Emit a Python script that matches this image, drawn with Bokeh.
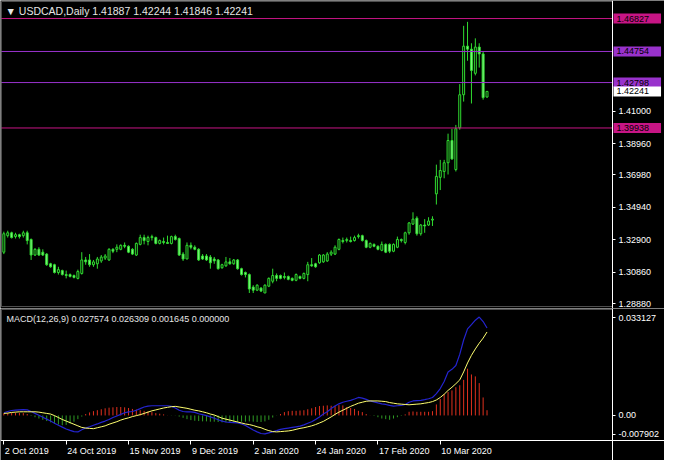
from bokeh.plotting import figure
from bokeh.models import (Range1d, FixedTicker, Label, PrintfTickFormatter,
                          ColumnDataSource, BoxAnnotation, LinearAxis)
from bokeh.layouts import column
from bokeh.embed import file_html
from bokeh.resources import INLINE

symbol = "USDCAD,Daily"

opens = [1.3212, 1.3316, 1.3334, 1.3310, 1.3322, 1.3316, 1.3334, 1.3292, 1.3194, 1.3230,
         1.3212, 1.3200, 1.3139, 1.3133, 1.3084, 1.3096, 1.3071, 1.3071, 1.3065, 1.3047,
         1.3078, 1.3163, 1.3163, 1.3133, 1.3139, 1.3157, 1.3175, 1.3163, 1.3230, 1.3230,
         1.3230, 1.3255, 1.3249, 1.3230, 1.3194, 1.3261, 1.3304, 1.3279, 1.3304, 1.3304,
         1.3267, 1.3279, 1.3273, 1.3267, 1.3310, 1.3298, 1.3200, 1.3169, 1.3255, 1.3243,
         1.3230, 1.3188, 1.3188, 1.3181, 1.3169, 1.3163, 1.3114, 1.3126, 1.3151, 1.3139,
         1.3163, 1.3108, 1.3084, 1.3071, 1.2992, 1.2973, 1.2986, 1.2955, 1.2998, 1.3029,
         1.3065, 1.3065, 1.3059, 1.3059, 1.3047, 1.3035, 1.3059, 1.3047, 1.3071, 1.3133,
         1.3139, 1.3145, 1.3151, 1.3157, 1.3200, 1.3200, 1.3230, 1.3285, 1.3285, 1.3285,
         1.3285, 1.3310, 1.3316, 1.3285, 1.3243, 1.3261, 1.3249, 1.3224, 1.3261, 1.3261,
         1.3218, 1.3243, 1.3292, 1.3273, 1.3334, 1.3389, 1.3426, 1.3328, 1.3383, 1.3383,
         1.3414, 1.3579, 1.3683, 1.3720, 1.3775, 1.3915, 1.3732, 1.3995, 1.4203, 1.4509,
         1.4490, 1.4338, 1.4503, 1.4460, 1.41887]
highs = [1.3341, 1.3347, 1.3341, 1.3334, 1.3328, 1.3347, 1.3347, 1.3298, 1.3237, 1.3243,
         1.3230, 1.3206, 1.3145, 1.3139, 1.3120, 1.3102, 1.3096, 1.3078, 1.3071, 1.3102,
         1.3212, 1.3182, 1.3200, 1.3163, 1.3182, 1.3194, 1.3200, 1.3237, 1.3237, 1.3261,
         1.3261, 1.3273, 1.3255, 1.3237, 1.3273, 1.3322, 1.3322, 1.3316, 1.3322, 1.3310,
         1.3292, 1.3304, 1.3316, 1.3316, 1.3322, 1.3304, 1.3212, 1.3273, 1.3273, 1.3255,
         1.3237, 1.3200, 1.3200, 1.3194, 1.3182, 1.3169, 1.3139, 1.3182, 1.3175, 1.3169,
         1.3169, 1.3114, 1.3090, 1.3078, 1.3004, 1.3010, 1.2992, 1.3010, 1.3053, 1.3108,
         1.3078, 1.3071, 1.3084, 1.3065, 1.3053, 1.3078, 1.3065, 1.3084, 1.3151, 1.3175,
         1.3145, 1.3200, 1.3200, 1.3212, 1.3224, 1.3255, 1.3298, 1.3304, 1.3304, 1.3310,
         1.3316, 1.3328, 1.3322, 1.3292, 1.3273, 1.3267, 1.3255, 1.3279, 1.3267, 1.3267,
         1.3267, 1.3310, 1.3298, 1.3341, 1.3402, 1.3463, 1.3438, 1.3389, 1.3420, 1.3432,
         1.3438, 1.3763, 1.3793, 1.3793, 1.3958, 1.3989, 1.4013, 1.4270, 1.4637, 1.4662,
         1.4527, 1.4558, 1.4527, 1.4478, 1.42244]
lows = [1.3200, 1.3304, 1.3298, 1.3298, 1.3298, 1.3304, 1.3261, 1.3163, 1.3188, 1.3188,
        1.3188, 1.3126, 1.3114, 1.3078, 1.3071, 1.3065, 1.3047, 1.3053, 1.3047, 1.3041,
        1.3071, 1.3133, 1.3120, 1.3120, 1.3108, 1.3145, 1.3163, 1.3157, 1.3206, 1.3212,
        1.3224, 1.3237, 1.3206, 1.3194, 1.3188, 1.3255, 1.3261, 1.3255, 1.3285, 1.3261,
        1.3261, 1.3261, 1.3267, 1.3261, 1.3285, 1.3188, 1.3157, 1.3169, 1.3230, 1.3224,
        1.3157, 1.3163, 1.3157, 1.3108, 1.3139, 1.3102, 1.3108, 1.3120, 1.3133, 1.3133,
        1.3102, 1.3065, 1.3053, 1.2955, 1.2955, 1.2967, 1.2961, 1.2955, 1.2992, 1.3016,
        1.3029, 1.3041, 1.3041, 1.3035, 1.3029, 1.3029, 1.3041, 1.3041, 1.3029, 1.3120,
        1.3114, 1.3139, 1.3145, 1.3151, 1.3188, 1.3194, 1.3224, 1.3267, 1.3273, 1.3273,
        1.3279, 1.3298, 1.3279, 1.3237, 1.3237, 1.3243, 1.3224, 1.3218, 1.3206, 1.3206,
        1.3212, 1.3237, 1.3273, 1.3261, 1.3322, 1.3383, 1.3316, 1.3316, 1.3334, 1.3377,
        1.3377, 1.3512, 1.3603, 1.3677, 1.3701, 1.3793, 1.3720, 1.3983, 1.4160, 1.4417,
        1.4148, 1.4325, 1.4374, 1.4172, 1.41846]
closes = [1.3328, 1.3334, 1.3304, 1.3322, 1.3310, 1.3334, 1.3285, 1.3194, 1.3230, 1.3194,
          1.3194, 1.3133, 1.3120, 1.3084, 1.3102, 1.3071, 1.3065, 1.3059, 1.3053, 1.3090,
          1.3163, 1.3151, 1.3133, 1.3151, 1.3169, 1.3181, 1.3188, 1.3230, 1.3218, 1.3243,
          1.3255, 1.3249, 1.3212, 1.3200, 1.3267, 1.3304, 1.3285, 1.3304, 1.3310, 1.3267,
          1.3285, 1.3273, 1.3267, 1.3310, 1.3292, 1.3194, 1.3169, 1.3255, 1.3243, 1.3230,
          1.3163, 1.3169, 1.3163, 1.3145, 1.3157, 1.3108, 1.3133, 1.3151, 1.3139, 1.3163,
          1.3108, 1.3071, 1.3071, 1.2980, 1.2973, 1.3004, 1.2967, 1.3004, 1.3047, 1.3065,
          1.3047, 1.3047, 1.3053, 1.3041, 1.3035, 1.3071, 1.3047, 1.3078, 1.3133, 1.3126,
          1.3120, 1.3194, 1.3194, 1.3200, 1.3212, 1.3243, 1.3292, 1.3279, 1.3292, 1.3279,
          1.3304, 1.3316, 1.3285, 1.3243, 1.3267, 1.3249, 1.3230, 1.3261, 1.3212, 1.3218,
          1.3261, 1.3292, 1.3285, 1.3334, 1.3396, 1.3420, 1.3328, 1.3383, 1.3377, 1.3408,
          1.3420, 1.3689, 1.3726, 1.3775, 1.3915, 1.3799, 1.3989, 1.4203, 1.4509, 1.4490,
          1.4356, 1.4503, 1.4460, 1.4185, 1.42241]

macd_main = [0.00084, 0.00125, 0.00155, 0.00165, 0.00175, 0.00185, 0.00175, 0.00125, 0.00064, 0.00004,
             -0.00056, -0.00117, -0.00177, -0.00247, -0.00308, -0.00368, -0.00428, -0.00469, -0.00509, -0.00519,
             -0.00449, -0.00398, -0.00358, -0.00308, -0.00268, -0.00217, -0.00177, -0.00127, -0.00066, -0.00016,
             0.00034, 0.00084, 0.00115, 0.00125, 0.00165, 0.00215, 0.00266, 0.00296, 0.00306, 0.00306,
             0.00306, 0.00306, 0.00306, 0.00286, 0.00235, 0.00165, 0.00125, 0.00115, 0.00115, 0.00095,
             0.00054, 0.00024, -0.00006, -0.00046, -0.00087, -0.00137, -0.00177, -0.00207, -0.00217, -0.00227,
             -0.00237, -0.00268, -0.00318, -0.00388, -0.00459, -0.00519, -0.00569, -0.00579, -0.00549, -0.00519,
             -0.00479, -0.00438, -0.00418, -0.00398, -0.00378, -0.00358, -0.00338, -0.00298, -0.00247, -0.00197,
             -0.00127, -0.00046, 0.00044, 0.00115, 0.00215, 0.00296, 0.00366, 0.00417, 0.00447, 0.00477,
             0.00517, 0.00567, 0.00547, 0.00507, 0.00457, 0.00427, 0.00396, 0.00366, 0.00346, 0.00316,
             0.00296, 0.00306, 0.00316, 0.00346, 0.00417, 0.00457, 0.00467, 0.00477, 0.00497, 0.00527,
             0.00567, 0.00688, 0.00849, 0.01070, 0.01372, 0.01453, 0.01573, 0.01925, 0.02378, 0.02730,
             0.02861, 0.03002, 0.03102, 0.02961, 0.027574]
macd_signal = [0.00064, 0.00074, 0.00095, 0.00105, 0.00115, 0.00115, 0.00115, 0.00115, 0.00115, 0.00105,
               0.00084, 0.00064, 0.00044, -0.00006, -0.00066, -0.00127, -0.00177, -0.00227, -0.00278, -0.00328,
               -0.00378, -0.00398, -0.00408, -0.00418, -0.00388, -0.00358, -0.00328, -0.00278, -0.00237, -0.00197,
               -0.00147, -0.00107, -0.00076, -0.00036, -0.00006, 0.00024, 0.00064, 0.00105, 0.00145, 0.00175,
               0.00205, 0.00235, 0.00256, 0.00276, 0.00286, 0.00266, 0.00245, 0.00225, 0.00195, 0.00165,
               0.00145, 0.00115, 0.00084, 0.00044, 0.00014, -0.00036, -0.00087, -0.00117, -0.00147, -0.00177,
               -0.00207, -0.00237, -0.00268, -0.00288, -0.00318, -0.00358, -0.00388, -0.00438, -0.00479, -0.00509,
               -0.00519, -0.00509, -0.00499, -0.00489, -0.00469, -0.00438, -0.00408, -0.00388, -0.00358, -0.00328,
               -0.00288, -0.00237, -0.00187, -0.00117, -0.00046, 0.00034, 0.00105, 0.00165, 0.00225, 0.00286,
               0.00336, 0.00386, 0.00417, 0.00447, 0.00457, 0.00457, 0.00457, 0.00447, 0.00437, 0.00406,
               0.00386, 0.00366, 0.00356, 0.00346, 0.00336, 0.00346, 0.00356, 0.00366, 0.00386, 0.00406,
               0.00437, 0.00487, 0.00567, 0.00668, 0.00789, 0.00889, 0.01000, 0.01121, 0.01372, 0.01654,
               0.01895, 0.02096, 0.02277, 0.02438, 0.026309]
macd_hist = [0.00064, 0.00074, 0.00084, 0.00084, 0.00084, 0.00074, 0.00044, -0.00016, -0.00056, -0.00097,
             -0.00137, -0.00177, -0.00217, -0.00258, -0.00288, -0.00308, -0.00298, -0.00258, -0.00197, -0.00117,
             -0.00036, 0.00044, 0.00095, 0.00135, 0.00165, 0.00195, 0.00225, 0.00245, 0.00256, 0.00266,
             0.00266, 0.00256, 0.00235, 0.00205, 0.00185, 0.00165, 0.00145, 0.00125, 0.00105, 0.00074,
             0.00054, 0.00034, 0.00004, -0.00006, -0.00006, -0.00036, -0.00076, -0.00117, -0.00147, -0.00167,
             -0.00177, -0.00187, -0.00187, -0.00197, -0.00197, -0.00207, -0.00217, -0.00217, -0.00207, -0.00207,
             -0.00207, -0.00197, -0.00197, -0.00187, -0.00197, -0.00207, -0.00207, -0.00187, -0.00137, -0.00066,
             -0.00006, 0.00044, 0.00105, 0.00135, 0.00145, 0.00145, 0.00155, 0.00165, 0.00195, 0.00225,
             0.00266, 0.00296, 0.00306, 0.00316, 0.00306, 0.00306, 0.00326, 0.00316, 0.00266, 0.00235,
             0.00205, 0.00145, 0.00105, 0.00044, 0.00004, -0.00016, -0.00056, -0.00097, -0.00117, -0.00137,
             -0.00097, -0.00056, -0.00016, 0.00034, 0.00115, 0.00125, 0.00115, 0.00115, 0.00115, 0.00115,
             0.00135, 0.00346, 0.00517, 0.00668, 0.00738, 0.00789, 0.00889, 0.00950, 0.01121, 0.01473,
             0.01292, 0.01231, 0.01020, 0.00567, 0.001645]

date_ticks = [0, 16, 32, 48, 64, 80, 96, 112]
date_labels = ["2 Oct 2019", "24 Oct 2019", "15 Nov 2019", "9 Dec 2019",
               "2 Jan 2020", "24 Jan 2020", "17 Feb 2020", "10 Mar 2020"]
# visible price-scale labels (the ones above 1.41 sit under the level tags)
price_ticks = [1.28880, 1.30860, 1.32900, 1.34940, 1.36980, 1.38960, 1.41000]
level_prices = [1.46827, 1.44754, 1.42798, 1.39938]
macd_ticks = [-0.007902, 0.0, 0.033127]

# ---------------- styles / layout ----------------
FONT = "Liberation Sans"
FS = "9px"
GREEN = "#30dc30"
BEAR_FILL = "#86f286"
level_colors = ["#c71585", "#9932cc", "#9932cc", "#c71585"]
BLUE = "#2424d0"
YELLOW = "#ffff70"
RED_H = "#e0301e"
GREEN_H = "#2f9a24"

W = 664
BOX_L = -0.6          # left edge of the chart box (bars)
AX_X = 156.2          # price-axis position (bars)
PPB = (612 - 1) / (AX_X - BOX_L)    # pixels per bar
x_range = Range1d(BOX_L - 1 / PPB, AX_X + (W - 612) / PPB)

# main panel: box from px 1 to 306 of a 308 px frame
P_LO, P_HI = 1.2870, 1.4790
PPU = 305 / (P_HI - P_LO)
H1 = 308
p_range = Range1d(P_LO - 2 / PPU, P_HI + 1 / PPU)

# MACD panel: box from px 1 to 132 of a 152 px frame (dates below)
M_LO, M_HI = -0.0079, 0.0334
H2 = 152
MPU = 131 / (M_HI - M_LO)
m_range = Range1d(M_LO - 20 / MPU, M_HI + 1 / MPU)

n = len(closes)
idx = list(range(n))


def style_axis(ax):
    ax.axis_line_color = "white"
    ax.major_tick_line_color = "white"
    ax.minor_tick_line_color = None
    ax.major_tick_in = 0
    ax.major_tick_out = 3
    ax.major_label_text_color = "white"
    ax.major_label_text_font = FONT
    ax.major_label_text_font_size = FS
    ax.major_label_standoff = 3


def base_figure(h, yr):
    f = figure(width=W, height=h, x_range=x_range, y_range=yr, output_backend="svg",
               toolbar_location=None, x_axis_location=None, y_axis_location="right",
               background_fill_color="black", border_fill_color="black",
               min_border_left=0, min_border_right=0, min_border_top=0, min_border_bottom=0)
    f.outline_line_color = None
    f.grid.visible = False
    return f


# ---------------- main price chart ----------------
p = base_figure(H1, p_range)
ya = p.yaxis[0]
ya.fixed_location = AX_X
ya.ticker = FixedTicker(ticks=price_ticks)
ya.formatter = PrintfTickFormatter(format="%.5f")
style_axis(ya)

p.add_layout(BoxAnnotation(left=BOX_L, right=AX_X, bottom=P_LO, top=P_HI, fill_alpha=0,
                           line_color="white", line_width=1))

bull = [i for i in idx if closes[i] >= opens[i]]
bear = [i for i in idx if closes[i] < opens[i]]
p.segment(x0=idx, y0=lows, x1=idx, y1=highs, line_color=GREEN, line_width=1)
src_bull = ColumnDataSource(dict(x=bull, top=[closes[i] for i in bull], bottom=[opens[i] for i in bull]))
src_bear = ColumnDataSource(dict(x=bear, top=[opens[i] for i in bear], bottom=[closes[i] for i in bear]))
p.vbar(x="x", top="top", bottom="bottom", width=0.5, source=src_bull,
       fill_color="black", line_color=GREEN, line_width=1)
p.vbar(x="x", top="top", bottom="bottom", width=0.5, source=src_bear,
       fill_color=BEAR_FILL, line_color=GREEN, line_width=1)

p.segment(x0=[BOX_L] * len(level_prices), x1=[AX_X] * len(level_prices),
          y0=level_prices, y1=level_prices, line_color=level_colors, line_width=1)

tags = list(zip(level_prices, level_colors)) + [(closes[-1], "white")]
for price, col in tags:
    p.add_layout(Label(x=AX_X, y=price, x_offset=1, text=f"{price:.5f}", text_align="left",
                       text_baseline="middle", background_fill_color=col,
                       background_fill_alpha=1.0, text_color="black", level="overlay",
                       text_font=FONT, text_font_size=FS,
                       padding=dict(left=3, right=12, top=2, bottom=2)))

header = f"\u25bc {symbol}  {opens[-1]:.5f} {highs[-1]:.5f} {lows[-1]:.5f} {closes[-1]:.5f}"
p.add_layout(Label(x=BOX_L, y=P_HI, x_offset=4, y_offset=-3, text=header, text_align="left",
                   text_baseline="top", text_color="#e6e6e6", text_font=FONT,
                   text_font_size="10.5px"))

# ---------------- MACD panel ----------------
q = base_figure(H2, m_range)
qa = q.yaxis[0]
qa.fixed_location = AX_X
# MetaTrader prints the panel's max / min labels just inside the window edges
macd_tick_pos = [macd_ticks[0] + 6.5 / MPU, macd_ticks[1], macd_ticks[2] - 7.5 / MPU]
qa.ticker = FixedTicker(ticks=macd_tick_pos)
qa.major_label_overrides = {pos: ("0.00" if val == 0 else f"{val:.6f}")
                            for pos, val in zip(macd_tick_pos, macd_ticks)}
style_axis(qa)

xa = LinearAxis(fixed_location=M_LO)
q.add_layout(xa, "below")
xa.ticker = FixedTicker(ticks=date_ticks)
xa.major_label_overrides = {t: "" for t in date_ticks}
style_axis(xa)
xa.major_tick_out = 4

q.add_layout(BoxAnnotation(left=BOX_L, right=AX_X, bottom=M_LO, top=M_HI, fill_alpha=0,
                           line_color="white", line_width=1))

hcol = [RED_H if v >= 0 else GREEN_H for v in macd_hist]
q.segment(x0=idx, y0=[0] * n, x1=idx, y1=macd_hist, line_color=hcol, line_width=1)
q.line(idx, macd_main, line_color=BLUE, line_width=1.2)
q.line(idx, macd_signal, line_color=YELLOW, line_width=1)

for t, s in zip(date_ticks, date_labels):
    q.add_layout(Label(x=t, y=M_LO, x_offset=1, y_offset=-5, text=s, text_align="left",
                       text_baseline="top", text_color="white", text_font=FONT,
                       text_font_size=FS))

mh = f"MACD(12,26,9) {macd_main[-1]:.6f} {macd_signal[-1]:.6f} {macd_hist[-1]:.6f} {0:.6f}"
q.add_layout(Label(x=BOX_L, y=M_HI, x_offset=5, y_offset=-4, text=mh, text_align="left",
                   text_baseline="top", text_color="#e6e6e6", text_font=FONT,
                   text_font_size=FS))

layout = column(p, q, spacing=0)
open("out.html", "w").write(file_html(layout, INLINE))
